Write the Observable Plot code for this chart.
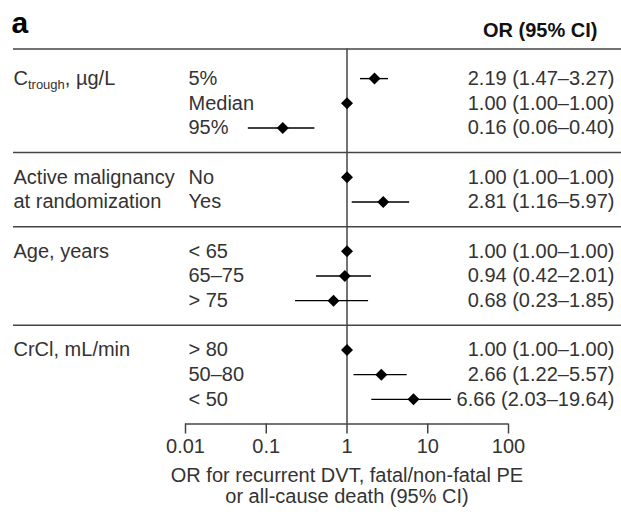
<!DOCTYPE html>
<html>
<head>
<meta charset="utf-8">
<script src="https://cdn.jsdelivr.net/npm/d3@7"></script>
<script src="https://cdn.jsdelivr.net/npm/@observablehq/plot@0.6"></script>
<style>
  html, body { margin: 0; padding: 0; background: #fff; }
  #chart { width: 621px; height: 514px; }
</style>
</head>
<body>
<div id="chart"></div>
<script>
// ---- data ----
const panelLetter = "a";
const headerLabel = "OR (95% CI)";
const groupLabels = [
  ["C_{trough}, µg/L"],
  ["Active malignancy", "at randomization"],
  ["Age, years"],
  ["CrCl, mL/min"]
];
const subgroupLabels = [
  ["5%", "Median", "95%"],
  ["No", "Yes"],
  ["< 65", "65–75", "> 75"],
  ["> 80", "50–80", "< 50"]
];
const orValues = [
  [2.19, 1.00, 0.16],
  [1.00, 2.81],
  [1.00, 0.94, 0.68],
  [1.00, 2.66, 6.66]
];
const ciLow = [
  [1.47, 1.00, 0.06],
  [1.00, 1.16],
  [1.00, 0.42, 0.23],
  [1.00, 1.22, 2.03]
];
const ciHigh = [
  [3.27, 1.00, 0.40],
  [1.00, 5.97],
  [1.00, 2.01, 1.85],
  [1.00, 5.57, 19.64]
];
const tickValues = [0.01, 0.1, 1, 10, 100];
const tickLabels = ["0.01", "0.1", "1", "10", "100"];
const axisTitle = "OR for recurrent DVT, fatal/non-fatal PE\nor all-cause death (95% CI)";

// ---- build rows ----
const rows = [];
const groupTexts = [];
const separators = [];
let pos = 0;
groupLabels.forEach((g, gi) => {
  if (gi > 0) separators.push(pos);
  subgroupLabels[gi].forEach((s, si) => {
    rows.push({
      idx: pos + 1 + si,
      label: s,
      or: orValues[gi][si],
      lo: ciLow[gi][si],
      hi: ciHigh[gi][si]
    });
  });
  g.forEach((line, li) => groupTexts.push({idx: pos + 1 + li, text: line}));
  pos += subgroupLabels[gi].length + 1;
});
const axisPos = pos;
const topPos = -0.2;
const fmt = v => v.toFixed(2);
rows.forEach(r => r.orText = `${fmt(r.or)} (${fmt(r.lo)}–${fmt(r.hi)})`);

const textColor = "#333";
const lineColor = "#444";

const svg = Plot.plot({
  width: 621,
  height: 514,
  marginLeft: 13,
  marginRight: 0,
  marginTop: 48.5,
  marginBottom: 90.5,
  style: {fontFamily: "'Liberation Sans', Arial, sans-serif", fontSize: "20px", color: textColor, background: "#fff"},
  x: {type: "log", domain: [0.01, 100], range: [185, 508]},
  y: {domain: [topPos, axisPos], reverse: true, axis: null},
  marks: [
    // top line and separators
    Plot.ruleY([topPos, ...separators], {stroke: lineColor, strokeWidth: 1.5}),
    // reference line at OR = 1
    Plot.ruleX([1], {y1: topPos, y2: axisPos, stroke: lineColor, strokeWidth: 1.5}),
    // axis line
    Plot.ruleY([axisPos], {x1: tickValues[0], x2: tickValues[tickValues.length - 1], stroke: lineColor, strokeWidth: 1.5}),
    Plot.axisX({
      ticks: tickValues,
      tickFormat: (d) => tickLabels[tickValues.indexOf(d)],
      tickSize: 10,
      tickPadding: 5,
      stroke: lineColor,
      strokeWidth: 1.5,
      fontSize: 20,
      fill: textColor,
      label: null
    }),
    // CIs
    Plot.ruleY(rows, {y: "idx", x1: "lo", x2: "hi", stroke: "#000", strokeWidth: 1.4}),
    Plot.dot(rows, {x: "or", y: "idx", symbol: "diamond2", r: 5.4, fill: "#000", stroke: null}),
    // left labels
    Plot.text(groupTexts, {y: "idx", text: "text", frameAnchor: "left", textAnchor: "start", fill: textColor, fontSize: 20}),
    Plot.text(rows, {y: "idx", text: "label", frameAnchor: "left", dx: 175, textAnchor: "start", fill: textColor, fontSize: 20}),
    // right OR text
    Plot.text(rows, {y: "idx", text: "orText", frameAnchor: "right", dx: -7, textAnchor: "end", fill: textColor, fontSize: 20}),
    // header & panel letter
    Plot.text([headerLabel], {frameAnchor: "top-right", dx: -24, dy: -12.5, lineAnchor: "bottom", textAnchor: "end", fontWeight: "bold", fill: "#111", fontSize: 20}),
    Plot.text([panelLetter], {frameAnchor: "top-left", dx: -2, dy: -16.5, lineAnchor: "bottom", textAnchor: "start", fontWeight: "bold", fill: "#000", fontSize: 30}),
    // axis title
    Plot.text([axisTitle], {x: 1, y: axisPos, dy: 43, lineAnchor: "top", lineHeight: 1.05, textAnchor: "middle", fill: textColor, fontSize: 20})
  ]
});

// subscript post-processing
d3.select(svg).selectAll("text").each(function () {
  const t = this.textContent;
  const m = t.match(/^(.*)_\{(.*?)\}(.*)$/);
  if (!m) return;
  const el = d3.select(this);
  el.text(null);
  el.append("tspan").text(m[1]);
  el.append("tspan").attr("font-size", 13).attr("dy", 4).text(m[2]);
  el.append("tspan").attr("font-size", 20).attr("dy", -4).text(m[3]);
});

document.getElementById("chart").appendChild(svg);
</script>
</body>
</html>
